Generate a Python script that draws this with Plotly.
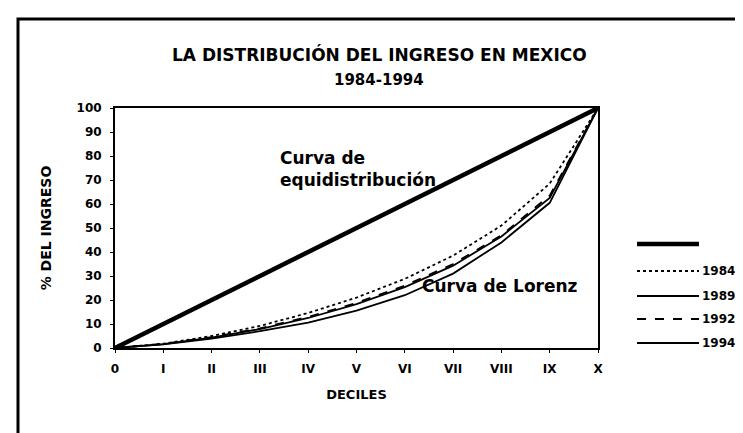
import plotly.graph_objects as go

# ---- data ----
decile_pos = [0, 1, 2, 3, 4, 5, 6, 7, 8, 9, 10]
decile_labels = ["0", "I", "II", "III", "IV", "V", "VI", "VII", "VIII", "IX", "X"]
y_ticks = [0, 10, 20, 30, 40, 50, 60, 70, 80, 90, 100]

equidistribucion = [0, 10, 20, 30, 40, 50, 60, 70, 80, 90, 100]
lorenz_1984 = [0, 1.8, 5.0, 9.2, 14.6, 21.0, 28.8, 38.5, 51.0, 68.5, 100]
lorenz_1989 = [0, 1.6, 4.3, 7.9, 12.5, 18.3, 25.4, 34.3, 46.5, 62.5, 100]
lorenz_1992 = [0, 1.7, 4.5, 8.2, 13.0, 18.8, 26.0, 35.0, 47.0, 63.5, 100]
lorenz_1994 = [0, 1.5, 3.9, 7.0, 10.6, 15.6, 22.0, 31.0, 44.0, 60.5, 100]

series_names = ["", "1984", "1989", "1992", "1994"]
series_values = [equidistribucion, lorenz_1984, lorenz_1989, lorenz_1992, lorenz_1994]
series_dash = ["solid", "dot", "solid", "dash", "solid"]
series_width = [4.5, 1.8, 1.8, 1.8, 1.8]

title_line1 = "LA DISTRIBUCIÓN DEL INGRESO EN MEXICO"
title_line2 = "1984-1994"

FONT = "DejaVu Sans"

fig = go.Figure()
for name, vals, dash, w in zip(series_names, series_values, series_dash, series_width):
    fig.add_trace(go.Scatter(
        x=decile_pos, y=vals, mode="lines", name=name,
        line=dict(color="black", width=w, dash=dash),
        showlegend=False, hoverinfo="x+y",
    ))

# manual legend (long line samples, labels on the right)
leg_rows_px = [236, 263, 288, 311, 335]
PLOT_L, PLOT_R, PLOT_T, PLOT_B = 107, 590, 100, 340
def px_to_paper_x(px):
    return (px - PLOT_L) / (PLOT_R - PLOT_L)
def px_to_paper_y(py):
    return (PLOT_B - py) / (PLOT_B - PLOT_T)

for name, dash, w, ry in zip(series_names, series_dash, series_width, leg_rows_px):
    fig.add_shape(type="line", xref="paper", yref="paper",
                  x0=px_to_paper_x(629), x1=px_to_paper_x(691),
                  y0=px_to_paper_y(ry), y1=px_to_paper_y(ry),
                  line=dict(color="black", width=w, dash=dash))
    if name:
        fig.add_annotation(xref="paper", yref="paper",
                           x=px_to_paper_x(692), y=px_to_paper_y(ry),
                           text="<b>" + name + "</b>", showarrow=False,
                           xanchor="left", yanchor="middle",
                           font=dict(family=FONT, size=12, color="black"))

# outer frame of the chart
fig.add_shape(type="rect", xref="paper", yref="paper",
              x0=px_to_paper_x(10), x1=px_to_paper_x(760),
              y0=px_to_paper_y(450), y1=px_to_paper_y(11),
              line=dict(color="black", width=3))

# titles
fig.add_annotation(xref="paper", yref="paper", x=px_to_paper_x(371), y=px_to_paper_y(47),
                   text="<b>" + title_line1 + "</b>", showarrow=False,
                   xanchor="center", yanchor="middle",
                   font=dict(family=FONT, size=17, color="black"))
fig.add_annotation(xref="paper", yref="paper", x=px_to_paper_x(371), y=px_to_paper_y(72),
                   text="<b>" + title_line2 + "</b>", showarrow=False,
                   xanchor="center", yanchor="middle",
                   font=dict(family=FONT, size=15, color="black"))

# curve labels
fig.add_annotation(x=3.37, y=74.6, text="<b>Curva de<br>equidistribución</b>",
                   showarrow=False, xanchor="left", yanchor="middle", align="left",
                   font=dict(family=FONT, size=17, color="black"))
fig.add_annotation(x=6.31, y=25.8, text="<b>Curva de Lorenz</b>",
                   showarrow=False, xanchor="left", yanchor="middle",
                   font=dict(family=FONT, size=17, color="black"))

fig.update_layout(
    width=743, height=433,
    margin=dict(l=PLOT_L, r=743 - PLOT_R, t=PLOT_T, b=433 - PLOT_B),
    paper_bgcolor="white", plot_bgcolor="white",
    font=dict(family=FONT, size=12, color="black"),
    showlegend=False,
)
tick_font = dict(family=FONT, size=12, color="black", weight="bold")
fig.update_xaxes(
    range=[0, 10], tickvals=decile_pos, ticktext=decile_labels,
    showgrid=False, zeroline=False,
    showline=True, linecolor="black", linewidth=2, mirror=True,
    ticks="outside", ticklen=3, tickcolor="black",
    tickfont=tick_font, ticklabelstandoff=6,
    title=dict(text="<b>DECILES</b>", font=dict(family=FONT, size=13, color="black"), standoff=14),
)
fig.update_yaxes(
    range=[0, 100], tickvals=y_ticks,
    showgrid=False, zeroline=False,
    showline=True, linecolor="black", linewidth=2, mirror=True,
    ticks="outside", ticklen=3, tickcolor="black",
    tickfont=tick_font, ticklabelstandoff=6,
    title=dict(text="<b>% DEL INGRESO</b>", font=dict(family=FONT, size=14, color="black"), standoff=22),
)

fig.write_html("out.html")
